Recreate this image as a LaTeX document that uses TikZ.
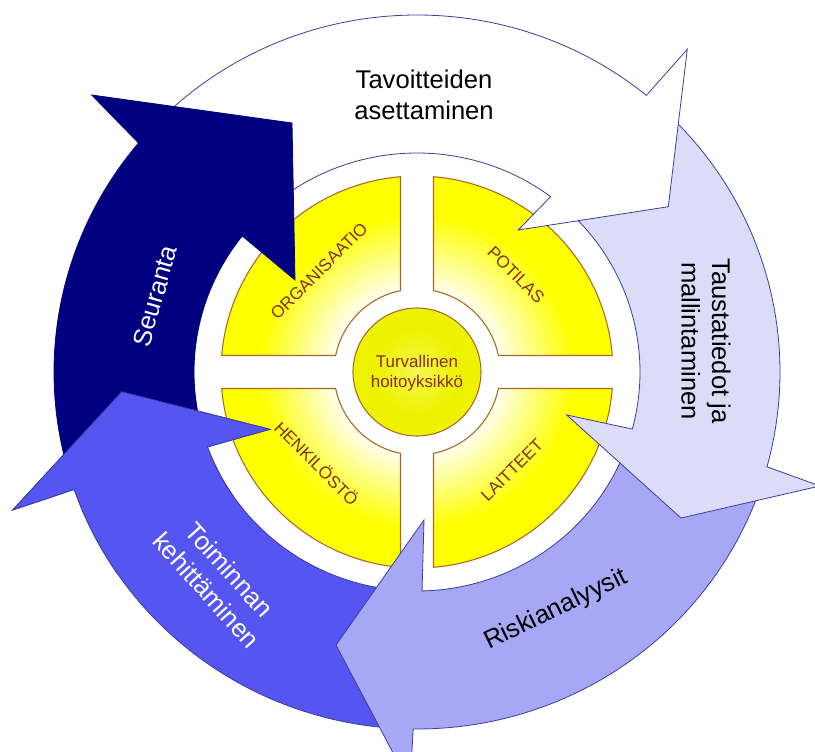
\documentclass[tikz,border=0pt]{standalone}
\usepackage{fontspec}
\setmainfont{Liberation Sans}
\definecolor{navyA}{HTML}{000080}
\definecolor{blueB}{HTML}{5555F2}
\definecolor{periC}{HTML}{A6A7F5}
\definecolor{lavD}{HTML}{DCDCF9}
\definecolor{edgeC}{HTML}{3C3CA0}
\definecolor{qlight}{HTML}{FFFFE8}
\definecolor{qyellow}{HTML}{FFFF00}
\definecolor{qedge}{HTML}{A8682A}
\definecolor{qtext}{HTML}{8A2E0A}
\definecolor{clight}{HTML}{F8FA80}
\definecolor{cyel}{HTML}{EEF200}
\def\Rx{363}\def\Ry{357}\def\rx{223}\def\ry{219}
\def\quadpath{(16.5,81.34) -- (16.5,195.3) arc[start angle=85.17, end angle=4.83, radius=196] -- (81.34,16.5) arc[start angle=11.47, end angle=78.53, radius=83] -- cycle}
\tikzset{
  arrowedge/.style={draw=edgeC, line width=0.6pt, line join=miter},
  lbl/.style={font=\fontsize{19.2}{23}\selectfont, align=center, inner sep=0pt},
  qlbl/.style={font=\fontsize{12.8}{15}\selectfont, text=qtext, inner sep=0pt},
  clbl/.style={font=\fontsize{12.7}{15.5}\selectfont, text=qtext, align=center, inner sep=0pt}
}
\begin{document}
\begin{tikzpicture}[x=0.75pt, y=0.75pt]
\useasboundingbox (-417,-379) rectangle (398,372);
% quadrants with a ring gradient (light near the centre, full yellow outside)
\foreach \a in {0,90,180,270}{
  \begin{scope}[rotate=\a]
    \begin{scope}
      \clip \quadpath;
      \foreach \r in {198,195,...,81}{
        \pgfmathtruncatemacro\p{min(100,max(0,(\r-86)/(158-86)*100))}
        \fill[qyellow!\p!qlight] (0,0) circle[radius=\r];
      }
    \end{scope}
    \draw[qedge, line width=0.8pt] \quadpath;
  \end{scope}
}
% centre circle
\foreach \r in {64,61,...,1}{
  \pgfmathtruncatemacro\p{min(100,max(35,35+\r*65/44))}
  \fill[cyel!\p!clight] (0,0) circle[radius=\r];
}
\draw[qedge, line width=0.8pt] (0,0) circle[radius=64];
% Toiminnan kehittaminen
\draw[arrowedge, fill=blueB] ({\Rx*cos(-93)},{\Ry*sin(-93)}) arc[start angle=-93, end angle=-160.8, x radius=\Rx, y radius=\Ry] -- (-404.3,-138) -- (-295.3,-19.7) -- (-147,-57.3) -- ({\rx*cos(-160)},{\ry*sin(-160)}) arc[start angle=-160, end angle=-93, x radius=\rx, y radius=\ry] -- cycle;
% Riskianalyysit
\draw[arrowedge, fill=periC] ({\Rx*cos(-19)},{\Ry*sin(-19)}) arc[start angle=-19, end angle=-90.6, x radius=\Rx, y radius=\Ry] -- (-7,-413) -- (-81,-273) -- (7,-148) -- ({\rx*cos(-88.7)},{\ry*sin(-88.7)}) arc[start angle=-88.7, end angle=-19, x radius=\rx, y radius=\ry] -- cycle;
% Taustatiedot
\draw[arrowedge, fill=lavD] ({\Rx*cos(47)},{\Ry*sin(47)}) arc[start angle=47, end angle=-15.4, x radius=\Rx, y radius=\Ry] -- (403,-114) -- (264,-146) -- (149.7,-43) -- ({\rx*cos(-15.1)},{\ry*sin(-15.1)}) arc[start angle=-15.1, end angle=47, x radius=\rx, y radius=\ry] -- cycle;
% Tavoitteiden
\draw[arrowedge, fill=white] ({\Rx*cos(137)},{\Ry*sin(137)}) arc[start angle=137, end angle=50.8, x radius=\Rx, y radius=\Ry] -- (270.3,322.7) -- (251.3,165.3) -- (101.3,142) -- ({\rx*cos(53.2)},{\ry*sin(53.2)}) arc[start angle=53.2, end angle=137, x radius=\rx, y radius=\ry] -- cycle;
% Seuranta
\draw[arrowedge, draw=navyA, fill=navyA] ({\Rx*cos(-164)},{\Ry*sin(-164)}) arc[start angle=-164, end angle=-219.9, x radius=\Rx, y radius=\Ry] -- (-325.3,277) -- (-125,249) -- (-122,92) -- ({\rx*cos(-218.4)},{\ry*sin(-218.4)}) arc[start angle=-218.4, end angle=-164, x radius=\rx, y radius=\ry] -- cycle;
% Toiminnan head again, on top of the Seuranta tail
\begin{scope}
  \clip (0,0) -- ({540*cos(-146)},{540*sin(-146)}) -- ({540*cos(-192)},{540*sin(-192)}) -- cycle;
  \draw[arrowedge, fill=blueB] ({\Rx*cos(-93)},{\Ry*sin(-93)}) arc[start angle=-93, end angle=-160.8, x radius=\Rx, y radius=\Ry] -- (-404.3,-138) -- (-295.3,-19.7) -- (-147,-57.3) -- ({\rx*cos(-160)},{\ry*sin(-160)}) arc[start angle=-160, end angle=-93, x radius=\rx, y radius=\ry] -- cycle;
\end{scope}
% labels
\node[lbl, text=black] (tav) at (7,277) {Tavoitteiden\\asettaminen};
\node[lbl, text=white, rotate=74] (seu) at (-262,76) {Seuranta};
\node[lbl, text=black, rotate=-90] (tau) at (289,31) {Taustatiedot ja\\mallintaminen};
\node[lbl, text=black, rotate=26] (ris) at (139,-238) {Riskianalyysit};
\node[lbl, text=white, rotate=-48] (toi) at (-199,-208) {Toiminnan\\kehittäminen};
\node[qlbl, rotate=45] (org) at (-98,101) {ORGANISAATIO};
\node[qlbl, rotate=-45] (pot) at (99,97) {POTILAS};
\node[qlbl, rotate=-45] (hen) at (-100,-91) {HENKILÖSTÖ};
\node[qlbl, rotate=45] (lai) at (95,-98) {LAITTEET};
\node[clbl] (tur) at (0,-1) {Turvallinen\\hoitoyksikkö};
\end{tikzpicture}
\end{document}
